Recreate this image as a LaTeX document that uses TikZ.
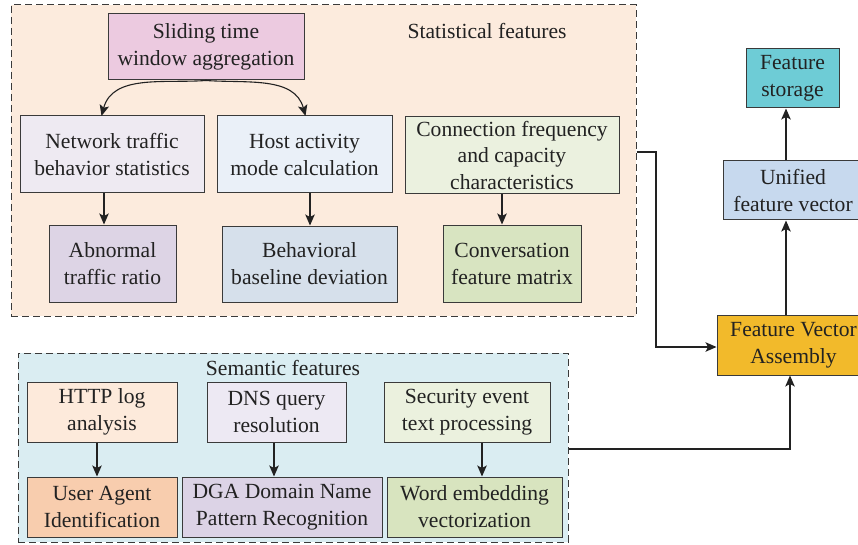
\documentclass[tikz,border=0pt]{standalone}
\usepackage{fontspec}
\setmainfont{Liberation Serif}
\usetikzlibrary{arrows.meta}

\definecolor{inkc}{HTML}{222222}
\definecolor{edgec}{HTML}{3A3A3A}
\definecolor{statbg}{HTML}{FCEBDD}
\definecolor{sembg}{HTML}{DAEDF2}
\definecolor{cslide}{HTML}{ECCAE0}
\definecolor{cnet}{HTML}{EEEAF2}
\definecolor{chost}{HTML}{EAF0F8}
\definecolor{cconn}{HTML}{EBF1DF}
\definecolor{cabn}{HTML}{DDD4E5}
\definecolor{cbeh}{HTML}{D6E0EB}
\definecolor{cconv}{HTML}{D8E4C1}
\definecolor{chttp}{HTML}{FDEADB}
\definecolor{cdns}{HTML}{EDE9F3}
\definecolor{csec}{HTML}{EBF1DE}
\definecolor{cua}{HTML}{F8CDAE}
\definecolor{cdga}{HTML}{DCD3E6}
\definecolor{cword}{HTML}{D8E4BF}
\definecolor{cstore}{HTML}{6ECCD6}
\definecolor{cunif}{HTML}{C7D9EE}
\definecolor{cfva}{HTML}{F2BA2B}

\tikzset{
  box/.style={draw=edgec, line width=1pt, rectangle, align=center,
    inner sep=0pt, text=inkc,
    font=\fontsize{21.6}{27}\selectfont},
  group/.style={draw=edgec, line width=1pt, rectangle, inner sep=0pt,
    dash pattern=on 7pt off 4pt},
  arr/.style={draw=inkc, line width=1.1pt,
    -{Stealth[length=11pt,width=9.5pt,inset=2.5pt]}},
  grouptitle/.style={text=inkc, inner sep=0pt,
    font=\fontsize{21.6}{27}\selectfont},
}

\begin{document}
\begin{tikzpicture}[x=1pt, y=-1pt]
\useasboundingbox (0,0) rectangle (858,545);
\clip (0,0) rectangle (858,545);

% group frames
\node[group, fill=statbg, minimum width=625pt, minimum height=311pt] (stat) at (323.5,160.5) {};
\node[group, fill=sembg, minimum width=550pt, minimum height=189pt] (sem) at (293,447.5) {};
\node[grouptitle] (stattitle) at (487,31) {Statistical features};
\node[grouptitle] (semtitle) at (283,368) {Semantic features};

% statistical features
\node[box, fill=cslide, minimum width=196pt, minimum height=66pt] (slide) at (206,47) {Sliding time\\window aggregation};
\node[box, fill=cnet, minimum width=184pt, minimum height=77pt] (net) at (112,154.5) {Network traffic\\behavior statistics};
\node[box, fill=chost, minimum width=175pt, minimum height=77pt] (host) at (304.5,154.5) {Host activity\\mode calculation};
\node[box, fill=cconn, minimum width=214pt, minimum height=77pt,
  font=\fontsize{21.6}{26.5}\selectfont] (conn) at (512,155.5) {Connection frequency\\and capacity\\characteristics};
\node[box, fill=cabn, minimum width=127pt, minimum height=77pt] (abn) at (112.5,263.5) {Abnormal\\traffic ratio};
\node[box, fill=cbeh, minimum width=175pt, minimum height=76pt] (beh) at (309.5,264) {Behavioral\\baseline deviation};
\node[box, fill=cconv, minimum width=138pt, minimum height=77pt] (conv) at (512,263.5) {Conversation\\feature matrix};

% semantic features
\node[box, fill=chttp, minimum width=150pt, minimum height=60pt] (http) at (102,412) {HTTP log\\analysis};
\node[box, fill=cdns, minimum width=139pt, minimum height=60pt] (dns) at (276.5,412) {DNS query\\resolution};
\node[box, fill=csec, minimum width=166pt, minimum height=60pt] (sec) at (467,412) {Security event\\text processing};
\node[box, fill=cua, minimum width=150pt, minimum height=60pt] (ua) at (102,507) {User Agent\\Identification};
\node[box, fill=cdga, minimum width=200pt, minimum height=60pt] (dga) at (282,507) {DGA Domain Name\\Pattern Recognition};
\node[box, fill=cword, minimum width=175pt, minimum height=60pt] (word) at (474.5,507) {Word embedding\\vectorization};

% output chain
\node[box, fill=cfva, minimum width=153pt, minimum height=60pt] (fva) at (793.5,345) {Feature Vector\\Assembly};
\node[box, fill=cunif, minimum width=140pt, minimum height=59pt] (unif) at (793,190.5) {Unified\\feature vector};
\node[box, fill=cstore, minimum width=93pt, minimum height=59pt] (store) at (792.5,78.5) {Feature\\storage};

% branching from the sliding window
\coordinate (netin) at (101.5,116);
\coordinate (hostin) at (305.5,116);
\draw[arr] (slide.south) to[out=184, in=75] (netin);
\draw[arr] (slide.south) to[out=-4, in=105] (hostin);

% statistical derivations
\draw[arr] ([xshift=-8pt]net.south) -- ([xshift=-8pt]net.south |- abn.north);
\draw[arr] ([xshift=5.5pt]host.south) -- ([xshift=5.5pt]host.south |- beh.north);
\draw[arr] ([xshift=-10pt]conn.south) -- ([xshift=-10pt]conn.south |- conv.north);

% semantic derivations
\draw[arr] ([xshift=-5pt]http.south) -- ([xshift=-5pt]http.south |- ua.north);
\draw[arr] ([xshift=-2.5pt]dns.south) -- ([xshift=-2.5pt]dns.south |- dga.north);
\draw[arr] ([xshift=15pt]sec.south) -- ([xshift=15pt]sec.south |- word.north);

% group outputs into the assembly
\coordinate (statout) at (stat.east |- 0,152);
\coordinate (statbend) at (656,152);
\draw[arr] (statout) -- (statbend) |- ([yshift=-2pt]fva.west);
\coordinate (semout) at (sem.east |- 0,449);
\draw[arr] (semout) -| ([xshift=-3.5pt]fva.south);

% assembly to storage
\draw[arr] ([xshift=-7.5pt]fva.north) -- ([xshift=-7.5pt]fva.north |- unif.south);
\draw[arr] ([xshift=-7pt]unif.north) -- ([xshift=-7pt]unif.north |- store.south);
\end{tikzpicture}
\end{document}
